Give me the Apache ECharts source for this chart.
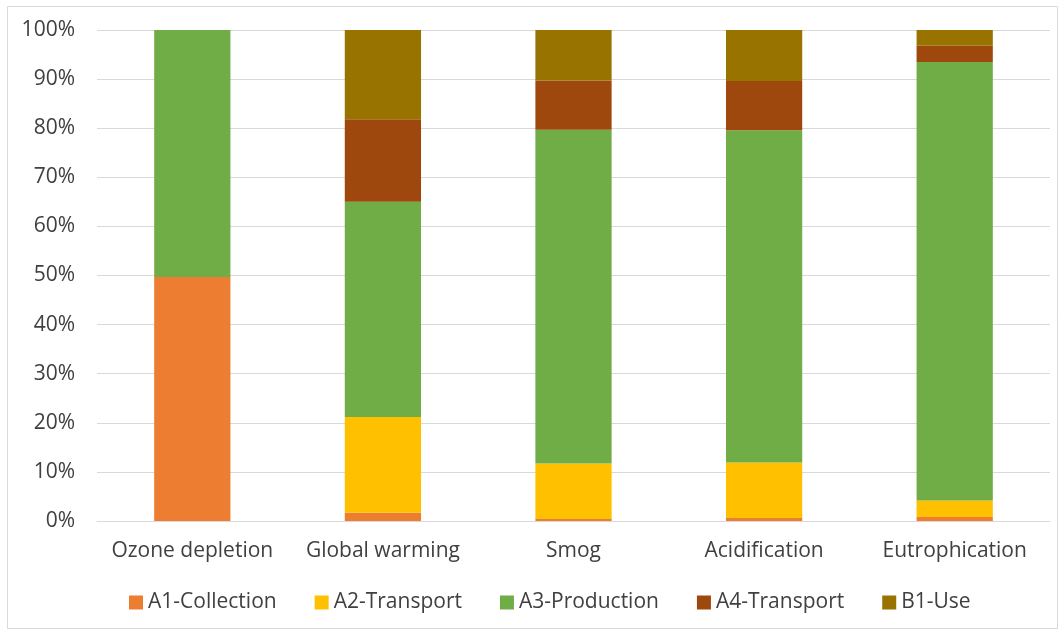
<!DOCTYPE html>
<html>
<head>
<meta charset="utf-8">
<script src="https://cdn.jsdelivr.net/npm/echarts@6/dist/echarts.min.js"></script>
<style>
html,body{margin:0;padding:0;background:#fff;}
#c{width:1060px;height:631px;}
</style>
</head>
<body>
<div id="c"></div>
<script>
const categories = ['Ozone depletion', 'Global warming', 'Smog', 'Acidification', 'Eutrophication'];
const seriesNames = ['A1-Collection', 'A2-Transport', 'A3-Production', 'A4-Transport', 'B1-Use'];
const a1Collection = [49.7, 1.7, 0.4, 0.6, 0.8];
const a2Transport = [0, 19.5, 11.3, 11.3, 3.4];
const a3Production = [50.3, 43.8, 68.0, 67.7, 89.3];
const a4Transport = [0, 16.8, 10.0, 10.0, 3.3];
const b1Use = [0, 18.2, 10.3, 10.4, 3.2];
const yTicks = [0, 10, 20, 30, 40, 50, 60, 70, 80, 90, 100];

const colors = ['#ED7D31', '#FFC000', '#70AD47', '#9E480E', '#997300'];
const values = [a1Collection, a2Transport, a3Production, a4Transport, b1Use];
const font = 'Open Sans, Liberation Sans, sans-serif';

const chart = echarts.init(document.getElementById('c'), null, {renderer: 'canvas'});
chart.setOption({
  animation: false,
  backgroundColor: '#fff',
  color: colors,
  graphic: [{
    type: 'rect', left: 5, top: 4, shape: {width: 1050, height: 622},
    style: {fill: 'none', stroke: '#d9d9d9', lineWidth: 1}, silent: true
  }],
  grid: {left: 97, right: 10, top: 30, bottom: 110, containLabel: false},
  legend: {
    bottom: 13, left: 124,
    itemWidth: 14, itemHeight: 14, itemGap: 38,
    icon: 'rect',
    textStyle: {fontSize: 21, color: '#404040', fontFamily: font},
    data: seriesNames
  },
  xAxis: {
    type: 'category', data: categories,
    axisLine: {lineStyle: {color: '#d9d9d9', width: 1}},
    axisTick: {show: false},
    axisLabel: {fontSize: 21, color: '#404040', fontFamily: font, margin: 20, interval: 0, hideOverlap: false}
  },
  yAxis: {
    type: 'value', min: 0, max: 100, interval: 10,
    axisLine: {show: false}, axisTick: {show: false},
    splitLine: {lineStyle: {color: '#d9d9d9', width: 1}},
    axisLabel: {
      fontSize: 21, color: '#404040', fontFamily: font, margin: 22,
      formatter: v => (yTicks.includes(v) ? v + '%' : '')
    }
  },
  series: seriesNames.map((n, i) => ({
    name: n, type: 'bar', stack: 'total', data: values[i],
    barCategoryGap: '60%',
    itemStyle: {color: colors[i]}
  }))
});
</script>
</body>
</html>
